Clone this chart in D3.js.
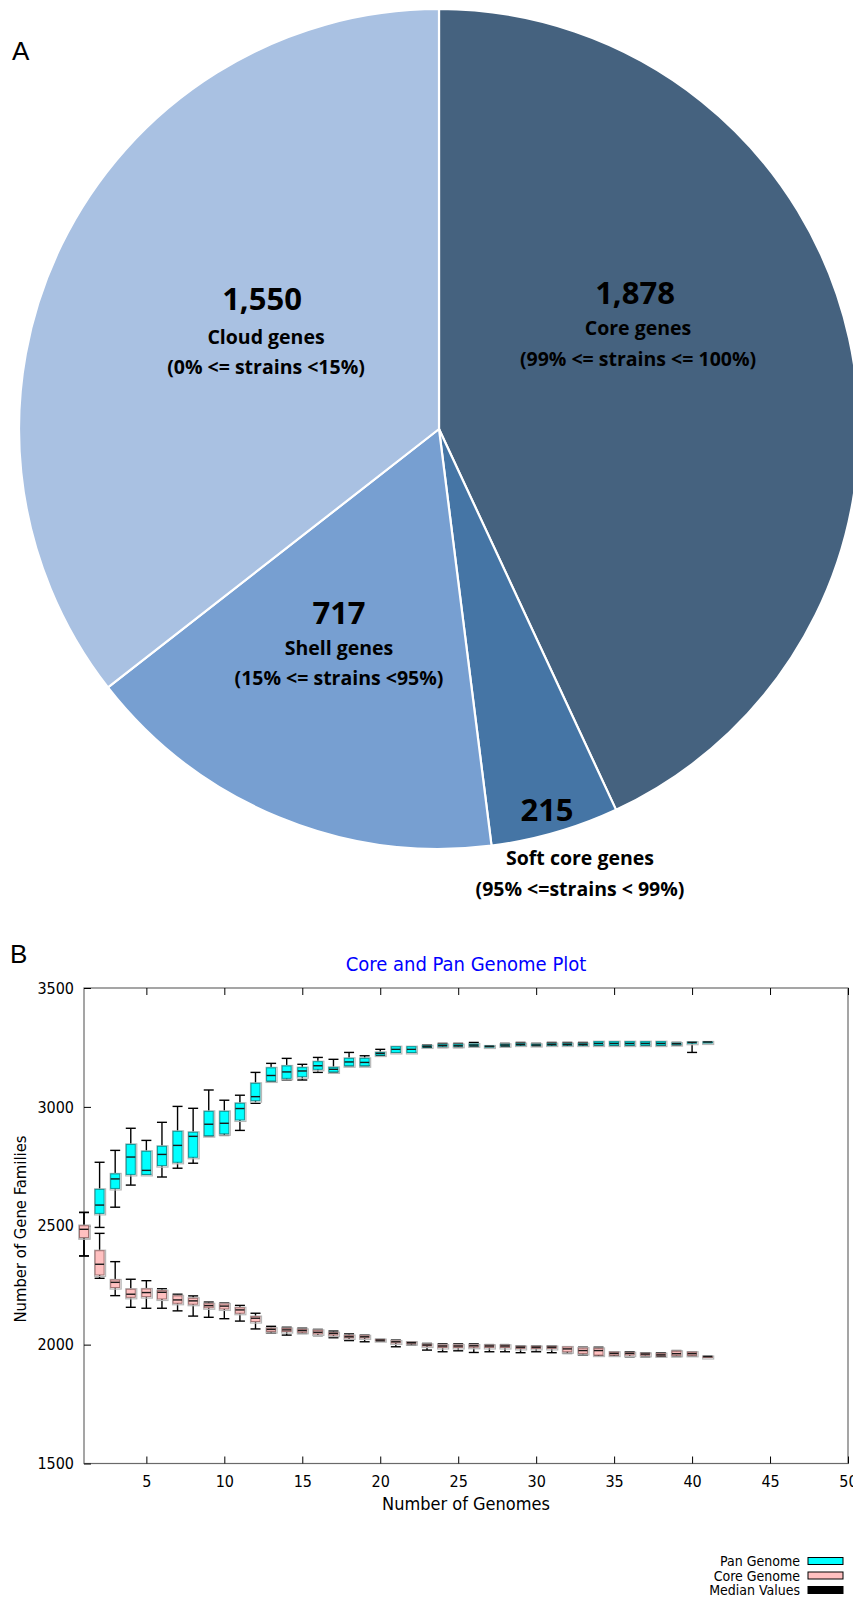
<!DOCTYPE html>
<html>
<head>
<meta charset="utf-8">
<script src="https://cdn.jsdelivr.net/npm/d3@7"></script>
<style>
  html, body { margin: 0; padding: 0; background: #fff; }
  svg { display: block; }
</style>
</head>
<body>
<svg id="fig" width="853" height="1598"></svg>
<script>
// ---- Panel A: gene category counts ----
const pieCategories = ["Core genes", "Soft core genes", "Shell genes", "Cloud genes"];
const pieCounts = [1878, 215, 717, 1550];
const pieRanges = ["(99% <= strains <= 100%)", "(95% <=strains < 99%)", "(15% <= strains <95%)", "(0% <= strains <15%)"];
const pieColors = ["#45627f", "#4575a5", "#779fd1", "#a9c1e2"];

// ---- Panel B: core / pan genome boxplots ----
const genomes = [1,2,3,4,5,6,7,8,9,10,11,12,13,14,15,16,17,18,19,20,21,22,23,24,25,26,27,28,29,30,31,32,33,34,35,36,37,38,39,40,41];
const panMin = [2373,2493,2578,2671,2716,2705,2742,2763,2878,2880,2901,3015,3109,3113,3113,3145,3147,3173,3173,3216,3229,3229,3250,3250,3250,3253,3253,3253,3256,3256,3256,3256,3256,3260,3260,3260,3260,3260,3260,3229,3271];
const panQ1  = [2450,2552,2657,2716,2716,2753,2767,2788,2879,2887,2945,3026,3109,3120,3127,3158,3147,3173,3173,3218,3229,3229,3252,3255,3255,3257,3254,3257,3260,3258,3260,3260,3260,3260,3260,3260,3260,3260,3262,3268,3272];
const panMed = [2485,2587,2697,2789,2733,2800,2838,2876,2927,2931,2993,3043,3132,3147,3151,3173,3158,3189,3187,3225,3242,3242,3255,3258,3257,3260,3255,3260,3263,3260,3263,3263,3263,3267,3267,3267,3267,3267,3266,3271,3273];
const panQ3  = [2500,2653,2718,2842,2813,2834,2897,2893,2981,2981,3015,3099,3164,3172,3165,3190,3166,3204,3204,3229,3253,3253,3257,3262,3262,3264,3256,3263,3266,3263,3266,3266,3266,3274,3274,3274,3274,3274,3268,3272,3273];
const panMax = [2556,2767,2817,2910,2859,2935,3002,2994,3071,3028,3049,3145,3183,3204,3179,3208,3200,3229,3215,3242,3253,3253,3260,3267,3267,3271,3257,3267,3271,3267,3271,3271,3271,3274,3274,3274,3274,3274,3271,3274,3274];

const coreMin = [2373,2279,2206,2157,2153,2153,2142,2120,2115,2109,2099,2066,2048,2040,2047,2038,2029,2017,2012,2015,1991,1998,1977,1970,1974,1967,1970,1970,1966,1970,1966,1963,1956,1952,1952,1949,1949,1949,1950,1952,1948];
const coreQ1  = [2450,2293,2240,2199,2202,2192,2174,2170,2155,2150,2132,2097,2055,2055,2052,2045,2040,2028,2028,2017,2007,2004,1994,1988,1988,1989,1988,1988,1984,1984,1984,1970,1963,1956,1956,1956,1955,1953,1955,1955,1949];
const coreMed = [2485,2338,2262,2212,2219,2220,2188,2184,2164,2162,2146,2111,2064,2062,2059,2052,2047,2033,2033,2019,2012,2008,1998,1994,1994,1995,1994,1994,1989,1989,1989,1982,1975,1975,1963,1963,1960,1957,1962,1962,1950];
const coreQ3  = [2500,2395,2272,2233,2234,2227,2205,2195,2172,2171,2155,2118,2069,2068,2064,2060,2050,2038,2037,2021,2015,2010,2001,1998,1998,1998,1997,1997,1992,1992,1992,1990,1985,1984,1968,1966,1963,1962,1972,1968,1950];
const coreMax = [2556,2468,2349,2275,2269,2235,2212,2205,2179,2175,2165,2132,2077,2073,2069,2064,2057,2045,2040,2022,2019,2012,2005,2003,2003,2003,2000,2000,1994,1994,1994,1991,1989,1989,1970,1970,1966,1966,1975,1970,1951];

const yTicks = [1500, 2000, 2500, 3000, 3500];
const xTicks = [5, 10, 15, 20, 25, 30, 35, 40, 45, 50];
const legendLabels = ["Pan Genome", "Core Genome", "Median Values"];

const svg = d3.select("#fig");
const labelFont = "'Open Sans', 'DejaVu Sans', sans-serif";
const plotFont = "'DejaVu Sans Condensed', 'DejaVu Sans', sans-serif";

// ================= Panel A =================
svg.append("text").attr("x", 12).attr("y", 60)
  .attr("font-family", "'Liberation Sans', Arial, sans-serif").attr("font-size", 26)
  .text("A");

const cx = 439, cy = 429, R = 420;
const pie = d3.pie().sort(null).value(d => d)(pieCounts);
const arc = d3.arc().innerRadius(0).outerRadius(R);
const gPie = svg.append("g").attr("transform", `translate(${cx},${cy})`);
gPie.selectAll("path").data(pie).join("path")
  .attr("d", arc)
  .attr("fill", (d, i) => pieColors[i])
  .attr("stroke", "#ffffff").attr("stroke-width", 2.2);

// label anchor points (number, name, range), one triple per slice
const pieLabelPos = [
  [[635, 292], [638, 327], [638, 358]],
  [[547, 809], [580, 857], [580, 888]],
  [[339, 612], [339, 647], [339, 677]],
  [[262, 298], [266, 336], [266, 366]]
];
pieCounts.forEach((v, i) => {
  const p = pieLabelPos[i];
  svg.append("text").attr("x", p[0][0]).attr("y", p[0][1])
    .attr("text-anchor", "middle").attr("dominant-baseline", "central")
    .attr("font-family", labelFont).attr("font-weight", "bold").attr("font-size", 31)
    .attr("fill", "#000").text(d3.format(",")(v));
  svg.append("text").attr("x", p[1][0]).attr("y", p[1][1])
    .attr("text-anchor", "middle").attr("dominant-baseline", "central")
    .attr("font-family", labelFont).attr("font-weight", "bold").attr("font-size", 19.5)
    .attr("fill", "#000").text(pieCategories[i]);
  svg.append("text").attr("x", p[2][0]).attr("y", p[2][1])
    .attr("text-anchor", "middle").attr("dominant-baseline", "central")
    .attr("font-family", labelFont).attr("font-weight", "bold").attr("font-size", 19.5)
    .attr("fill", "#000").text(pieRanges[i]);
});

// ================= Panel B =================
svg.append("text").attr("x", 10).attr("y", 963)
  .attr("font-family", "'Liberation Sans', Arial, sans-serif").attr("font-size", 26)
  .text("B");

const plotL = 84, plotR = 848, plotT = 988, plotB = 1463.5;
const x = d3.scaleLinear().domain([1, 50]).range([plotL, plotR]);
const y = d3.scaleLinear().domain([1500, 3500]).range([plotB, plotT]);

svg.append("text").attr("x", 466).attr("y", 964)
  .attr("text-anchor", "middle").attr("dominant-baseline", "central")
  .attr("font-family", plotFont).attr("font-size", 20).attr("fill", "#0000ff")
  .text("Core and Pan Genome Plot");

// frame
svg.append("rect").attr("x", plotL).attr("y", plotT)
  .attr("width", plotR - plotL).attr("height", plotB - plotT)
  .attr("fill", "none").attr("stroke", "#6a6a6a").attr("stroke-width", 1.2);

// y axis
const yAxis = d3.axisLeft(y).tickValues(yTicks).tickFormat(d3.format("d")).tickSize(-7).tickPadding(10);
const gy = svg.append("g").attr("transform", `translate(${plotL},0)`).call(yAxis);
gy.select(".domain").remove();
gy.selectAll("line").attr("stroke", "#000");
gy.selectAll("text").attr("font-family", plotFont).attr("font-size", 16).attr("fill", "#000");

// x axis (bottom + mirrored ticks on top)
const xAxis = d3.axisBottom(x).tickValues(xTicks).tickSize(-7).tickPadding(12);
const gx = svg.append("g").attr("transform", `translate(0,${plotB})`).call(xAxis);
gx.select(".domain").remove();
gx.selectAll("line").attr("stroke", "#000");
gx.selectAll("text").attr("font-family", plotFont).attr("font-size", 16).attr("fill", "#000");
const gxTop = svg.append("g").attr("transform", `translate(0,${plotT})`)
  .call(d3.axisTop(x).tickValues(xTicks).tickSize(-7).tickFormat(""));
gxTop.select(".domain").remove();
gxTop.selectAll("line").attr("stroke", "#000");

// axis titles
svg.append("text").attr("x", 466).attr("y", 1503)
  .attr("text-anchor", "middle").attr("dominant-baseline", "central")
  .attr("font-family", plotFont).attr("font-size", 18).attr("fill", "#000")
  .text("Number of Genomes");
svg.append("text").attr("transform", "translate(20,1229) rotate(-90)")
  .attr("text-anchor", "middle").attr("dominant-baseline", "central")
  .attr("font-family", plotFont).attr("font-size", 16.5).attr("fill", "#000")
  .text("Number of Gene Families");

// boxplots
const boxW = 9, capW = 10;
function drawBoxes(mins, q1, med, q3, maxs, fill, edge) {
  const g = svg.append("g");
  genomes.forEach((n, i) => {
    const cxp = x(n);
    // whisker stem and caps
    g.append("line").attr("x1", cxp).attr("x2", cxp)
      .attr("y1", y(mins[i])).attr("y2", y(maxs[i]))
      .attr("stroke", "#000").attr("stroke-width", 1.4);
    [mins[i], maxs[i]].forEach(v => {
      g.append("line").attr("x1", cxp - capW / 2).attr("x2", cxp + capW / 2)
        .attr("y1", y(v)).attr("y2", y(v))
        .attr("stroke", "#000").attr("stroke-width", 1.4);
    });
    const yt = y(q3[i]), yb = y(q1[i]);
    // soft grey halo behind box
    g.append("rect").attr("x", cxp - boxW / 2 - 0.5).attr("y", yt - 0.5)
      .attr("width", boxW + 2).attr("height", Math.max(yb - yt, 1) + 2)
      .attr("fill", "none").attr("stroke", "#b8b8b8").attr("stroke-width", 1.2);
    g.append("rect").attr("x", cxp - boxW / 2).attr("y", yt)
      .attr("width", boxW).attr("height", Math.max(yb - yt, 1))
      .attr("fill", fill).attr("stroke", edge).attr("stroke-width", 1);
    g.append("line").attr("x1", cxp - boxW / 2).attr("x2", cxp + boxW / 2)
      .attr("y1", y(med[i])).attr("y2", y(med[i]))
      .attr("stroke", "#1a1a1a").attr("stroke-width", 1.4);
  });
}
drawBoxes(panMin, panQ1, panMed, panQ3, panMax, "#00ffff", "#0a9a9a");
drawBoxes(coreMin, coreQ1, coreMed, coreQ3, coreMax, "#ffc0c0", "#a07070");

// legend
const legendFills = ["#00ffff", "#ffc0c0", "#000000"];
legendLabels.forEach((t, i) => {
  const ly = 1561 + i * 14.5;
  svg.append("text").attr("x", 800).attr("y", ly)
    .attr("text-anchor", "end").attr("dominant-baseline", "central")
    .attr("font-family", plotFont).attr("font-size", 14).attr("fill", "#000")
    .text(t);
  svg.append("rect").attr("x", 808).attr("y", ly - 3.5)
    .attr("width", 35).attr("height", 7)
    .attr("fill", legendFills[i]).attr("stroke", "#000").attr("stroke-width", 1);
});
</script>
</body>
</html>
